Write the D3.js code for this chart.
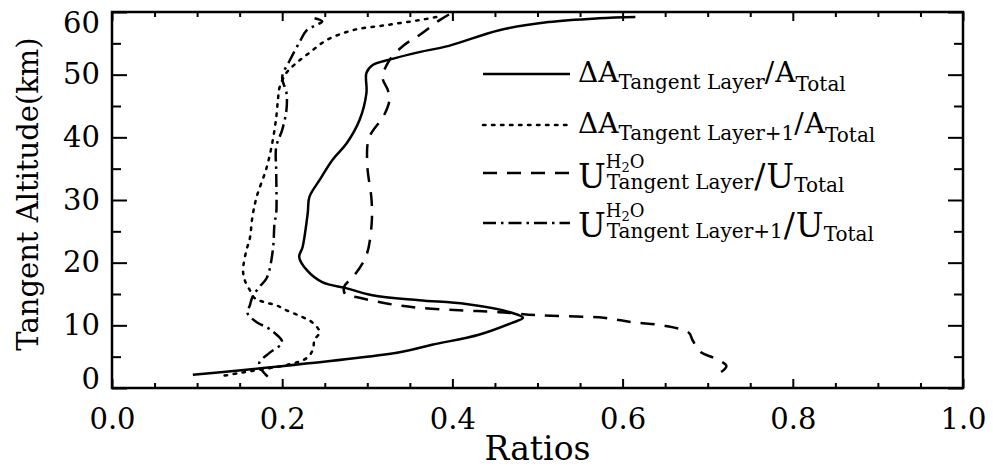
<!DOCTYPE html>
<html>
<head>
<meta charset="utf-8">
<script src="https://cdn.jsdelivr.net/npm/d3@7"></script>
<style>
  body { margin: 0; background: #fff; }
  text { font-family: "DejaVu Serif", serif; fill: #000; }
</style>
</head>
<body>
<script>
// plot frame in page pixels
var margin = {top: 12, right: 30, bottom: 79, left: 112},
    width = 993 - margin.left - margin.right,
    height = 467 - margin.top - margin.bottom;

// axis ticks
let xMajor = [0, 0.2, 0.4, 0.6, 0.8, 1.0];
let xMinor = [0.05, 0.1, 0.15, 0.25, 0.3, 0.35, 0.45, 0.5, 0.55, 0.65, 0.7, 0.75, 0.85, 0.9, 0.95];
let yMajor = [0, 10, 20, 30, 40, 50, 60];
let yMinor = [5, 15, 25, 35, 45, 55];

// [ratio, altitude km]
let dA_layer = [[0.095,2.1],[0.338,5.7],[0.376,6.9],[0.431,8.5],[0.470,10.4],[0.483,11.2],[0.470,12.0],
  [0.416,13.4],[0.361,14.0],[0.306,14.8],[0.276,15.9],[0.247,16.9],[0.229,18.8],[0.220,20.9],[0.224,22.5],
  [0.230,27.9],[0.232,30.5],[0.244,33.2],[0.259,36.4],[0.276,39.1],[0.291,42.8],[0.299,47.1],[0.299,50.3],
  [0.306,51.5],[0.326,52.4],[0.361,53.6],[0.396,54.6],[0.455,57.1],[0.513,58.4],[0.572,59.0],[0.615,59.2]];

let dA_layer1 = [[0.381,59.2],[0.361,58.7],[0.322,57.9],[0.283,57.1],[0.252,55.5],[0.232,53.5],[0.217,51.9],
  [0.205,50.3],[0.197,48.0],[0.195,46.0],[0.193,43.2],[0.189,39.6],[0.182,35.3],[0.170,30.5],[0.165,27.3],
  [0.162,23.9],[0.158,22.0],[0.154,18.8],[0.156,17.2],[0.162,15.6],[0.168,14.3],[0.179,13.7],[0.193,13.2],
  [0.205,12.4],[0.224,11.3],[0.236,10.4],[0.244,8.9],[0.238,7.7],[0.236,6.1],[0.229,4.8],[0.209,3.8],
  [0.173,2.9],[0.150,2.4],[0.129,1.9]];

let u_layer = [[0.396,59.6],[0.385,58.7],[0.361,56.3],[0.343,54.7],[0.326,52.3],[0.318,49.5],[0.324,47.6],
  [0.326,46.0],[0.320,43.6],[0.302,39.9],[0.300,35.6],[0.305,30.0],[0.305,26.0],[0.299,21.2],[0.285,18.0],
  [0.273,16.2],[0.274,15.0],[0.291,14.4],[0.326,13.4],[0.361,12.8],[0.408,12.4],[0.455,12.1],[0.502,11.6],
  [0.578,11.2],[0.611,10.5],[0.651,9.9],[0.678,8.8],[0.682,7.7],[0.692,5.7],[0.707,4.8],[0.722,3.5],[0.711,2.1]];

let u_layer1 = [[0.238,59.0],[0.247,58.5],[0.240,57.9],[0.229,57.1],[0.220,55.1],[0.209,52.3],[0.200,49.6],
  [0.205,47.1],[0.205,44.4],[0.200,41.2],[0.193,38.5],[0.193,34.3],[0.193,27.9],[0.191,26.3],[0.189,22.0],
  [0.182,17.6],[0.173,16.1],[0.165,14.5],[0.162,13.2],[0.159,12.0],[0.170,10.5],[0.183,9.6],[0.191,8.8],
  [0.200,7.3],[0.185,5.6],[0.173,4.0],[0.176,2.9],[0.183,1.8]];

let series = [
  {data: dA_layer,  dash: null},
  {data: dA_layer1, dash: "2.5,6.5"},
  {data: u_layer,   dash: "14,10"},
  {data: u_layer1,  dash: "13,5,2.5,5"}
];

var svg = d3.select("body").append("svg")
    .attr("width", 993)
    .attr("height", 467)
  .append("g")
    .attr("transform", "translate(" + margin.left + "," + margin.top + ")");

var x = d3.scaleLinear().domain([0, 1]).range([0, width]);
var y = d3.scaleLinear().domain([0, 60]).range([height, 0]);

// ticks point into the plot on all four sides
function styleAxis(g) {
  g.select(".domain").remove();
  g.selectAll(".tick line").attr("stroke", "#000").attr("stroke-width", 2);
  g.selectAll(".tick text").style("font-size", "29px").attr("fill", "#000");
}

svg.append("g").attr("transform", "translate(0," + height + ")")
  .call(d3.axisBottom(x).tickValues(xMajor).tickSize(-9).tickPadding(20).tickFormat(d3.format(".1f")))
  .call(styleAxis);
svg.append("g").attr("transform", "translate(0," + height + ")")
  .call(d3.axisBottom(x).tickValues(xMinor).tickSize(-5).tickFormat(""))
  .call(styleAxis);
svg.append("g")
  .call(d3.axisTop(x).tickValues(xMajor).tickSize(-9).tickFormat(""))
  .call(styleAxis);
svg.append("g")
  .call(d3.axisTop(x).tickValues(xMinor).tickSize(-5).tickFormat(""))
  .call(styleAxis);

svg.append("g")
  .call(d3.axisLeft(y).tickValues(yMajor).tickSize(-15).tickPadding(12).tickFormat(d3.format("d")))
  .call(styleAxis)
  .selectAll(".tick text")
    // end labels sit inside the frame's height
    .attr("dy", function(d) { return d == 60 ? "0.71em" : d == 0 ? "0.02em" : "0.32em"; });
svg.append("g")
  .call(d3.axisLeft(y).tickValues(yMinor).tickSize(-9).tickFormat(""))
  .call(styleAxis);
svg.append("g").attr("transform", "translate(" + width + ",0)")
  .call(d3.axisRight(y).tickValues(yMajor).tickSize(-15).tickFormat(""))
  .call(styleAxis);
svg.append("g").attr("transform", "translate(" + width + ",0)")
  .call(d3.axisRight(y).tickValues(yMinor).tickSize(-9).tickFormat(""))
  .call(styleAxis);

svg.append("rect")
  .attr("width", width).attr("height", height)
  .attr("fill", "none").attr("stroke", "#000").attr("stroke-width", 2.5);

// axis titles
svg.append("text")
  .attr("transform", "translate(" + x(0.5) + "," + (height + 72) + ")")
  .style("text-anchor", "middle")
  .style("font-size", "33px")
  .text("Ratios");

svg.append("text")
  .attr("transform", "rotate(-90)")
  .attr("x", -(height / 2) + 6)
  .attr("y", -margin.left + 38)
  .style("text-anchor", "middle")
  .style("font-size", "29px")
  .text("Tangent Altitude(km)");

// the four profiles
var line = d3.line()
  .x(function(d) { return x(d[0]); })
  .y(function(d) { return y(d[1]); })
  .curve(d3.curveCatmullRom.alpha(0.5));

svg.selectAll(".profile")
    .data(series)
  .enter().append("path")
    .attr("class", "profile")
    .attr("d", function(d) { return line(d.data); })
    .attr("fill", "none")
    .attr("stroke", "#000")
    .attr("stroke-width", 2.5)
    .attr("stroke-linecap", function(d) { return d.dash == "2.5,6.5" ? "round" : "butt"; })
    .attr("stroke-dasharray", function(d) { return d.dash; });

// legend: [text, font size, baseline offset, role]
let legendRows = [
  {y: 74,  base: 82,  parts: [["ΔA",28,0],["Tangent Layer",20,7],["/",28,0],["A",28,0],["Total",20,9]]},
  {y: 125, base: 133, parts: [["ΔA",28,0],["Tangent Layer+1",20,7],["/",28,0],["A",28,0],["Total",20,9]]},
  {y: 173, base: 188, parts: [["U",33,0],["H2O",18,-20,"sup"],["Tangent Layer",20,1,"sub"],["/",33,0],["U",33,0],["Total",20,4]]},
  {y: 223, base: 237, parts: [["U",33,0],["H2O",18,-20,"sup"],["Tangent Layer+1",20,1,"sub"],["/",33,0],["U",33,0],["Total",20,4]]}
];

var legend = d3.select("svg").append("g");

legendRows.forEach(function(row, i) {
  legend.append("line")
    .attr("x1", 483).attr("x2", 570)
    .attr("y1", row.y).attr("y2", row.y)
    .attr("stroke", "#000")
    .attr("stroke-width", 2.5)
    .attr("stroke-linecap", series[i].dash == "2.5,6.5" ? "round" : "butt")
    .attr("stroke-dasharray", series[i].dash);

  let cx = 578, stackX = 0, supEnd = 0;
  row.parts.forEach(function(p) {
    let px = p[3] == "sub" ? stackX : cx;
    let t = legend.append("text")
      .attr("x", px)
      .attr("y", row.base + p[2])
      .style("font-size", p[1] + "px");
    if (p[0] == "H2O") {
      t.append("tspan").text("H");
      t.append("tspan").style("font-size", "13px").attr("dy", 4).text("2");
      t.append("tspan").attr("dy", -4).text("O");
    } else {
      t.text(p[0]);
    }
    let w = t.node().getComputedTextLength();
    if (p[3] == "sup") {
      stackX = px + 1;
      supEnd = px + w;
    } else if (p[3] == "sub") {
      cx = Math.max(px + w, supEnd) + 1;
    } else {
      cx = px + w + (p[0] == "/" ? 1 : 0);
    }
  });
});
</script>
</body>
</html>
